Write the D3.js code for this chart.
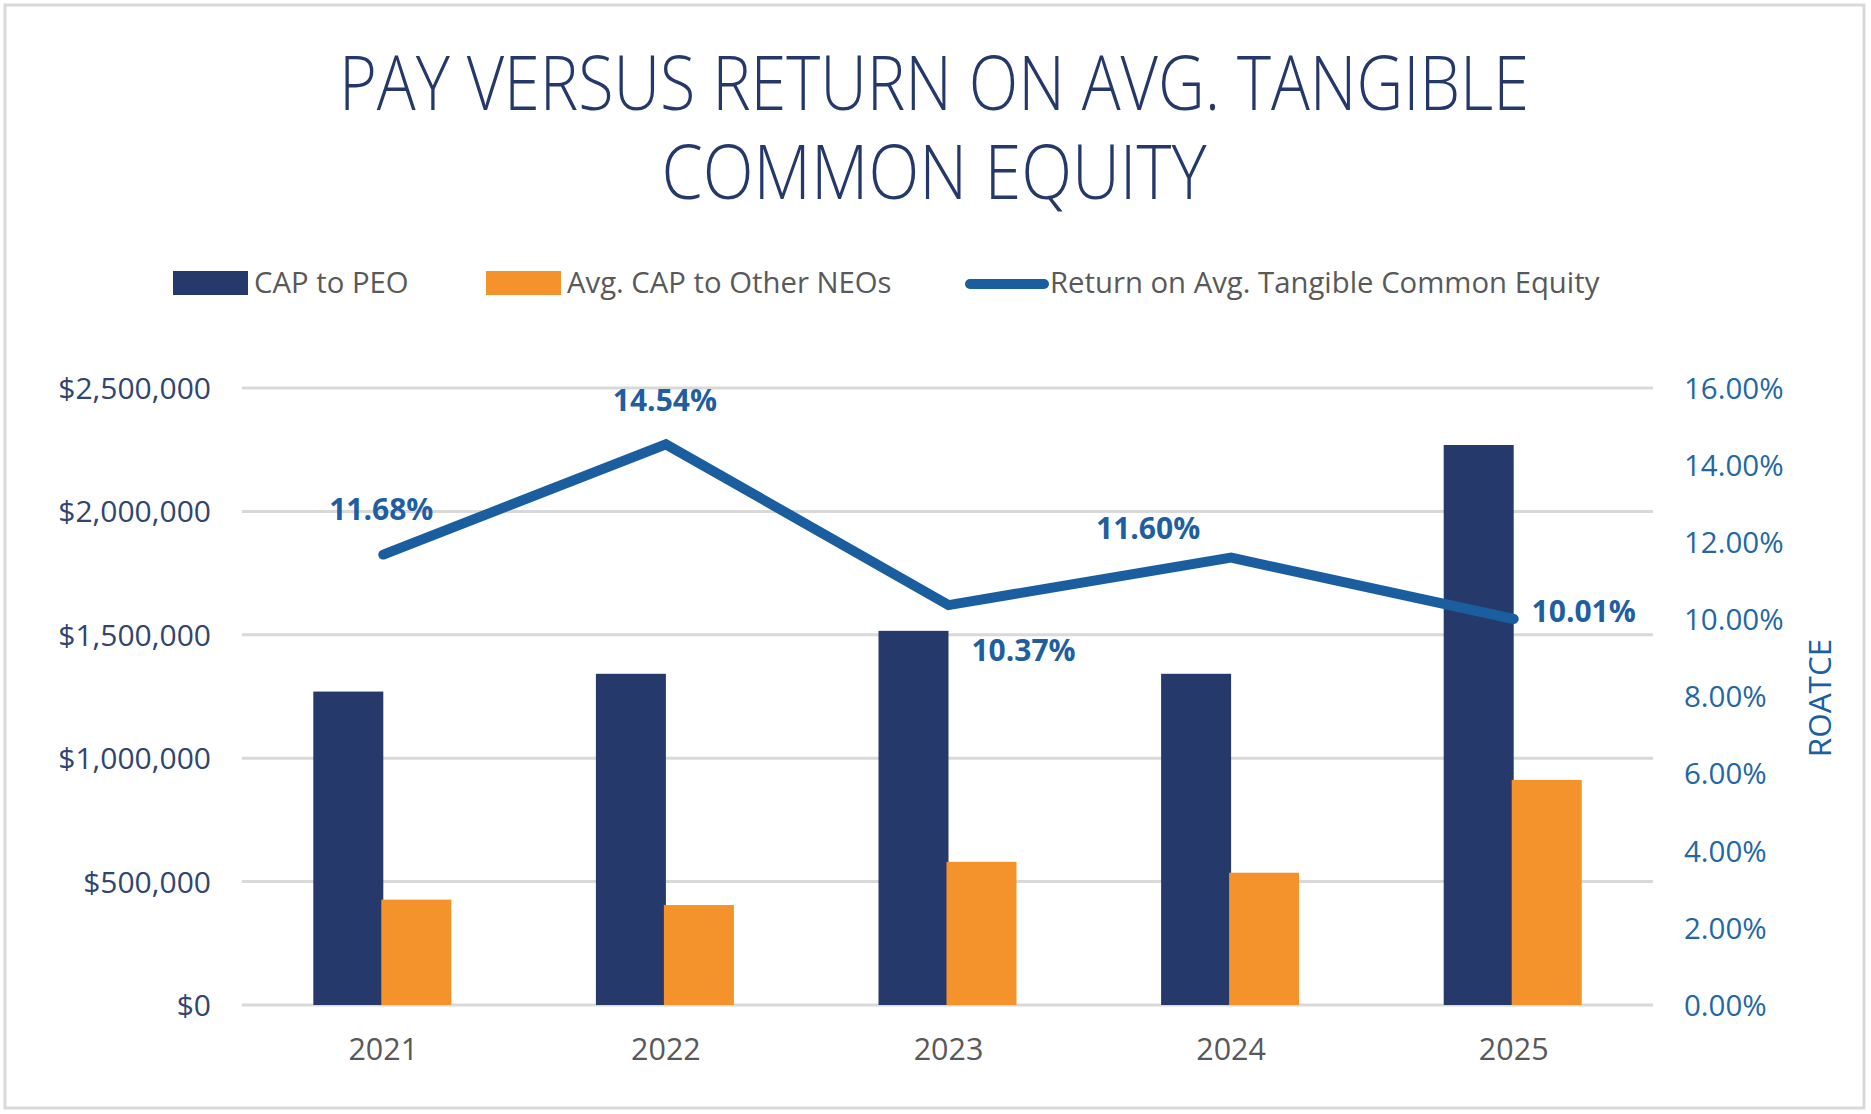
<!DOCTYPE html>
<html>
<head>
<meta charset="utf-8">
<script src="https://cdn.jsdelivr.net/npm/d3@7"></script>
<style>
  body { margin: 0; background: #fff; }
  text { font-family: "Open Sans", "Noto Sans", sans-serif; }
</style>
</head>
<body>
<script>
// chart data
var years = ["2021", "2022", "2023", "2024", "2025"];
var capPeo = [1270000, 1342000, 1516000, 1342000, 2269000];
var capNeo = [427000, 405000, 580000, 536000, 912000];
var roatce = [0.1168, 0.1454, 0.1037, 0.1160, 0.1001];
var leftTicks = [0, 500000, 1000000, 1500000, 2000000, 2500000];
var rightTicks = [0, 0.02, 0.04, 0.06, 0.08, 0.10, 0.12, 0.14, 0.16];
var titleLines = ["PAY VERSUS RETURN ON AVG. TANGIBLE", "COMMON EQUITY"];
var seriesNames = ["CAP to PEO", "Avg. CAP to Other NEOs", "Return on Avg. Tangible Common Equity"];

// label placement for the line values (dx, dy from the point)
var labelOffsets = [[-2, -45], [-1, -44], [75, 45], [-83, -29], [70, -7]];

var svgWidth = 1871;
var svgHeight = 1114;

var navy = "#26396b";
var orange = "#f4922b";
var blue = "#1b5e9f";

var svg = d3.select("body")
  .append("svg")
  .attr("width", svgWidth)
  .attr("height", svgHeight);

// outer frame
svg.append("rect")
  .attr("x", 5).attr("y", 5)
  .attr("width", 1859).attr("height", 1103)
  .attr("fill", "#fff")
  .attr("stroke", "#d9d9d9")
  .attr("stroke-width", 3);

// title
var titleWidths = [1190, 545];
svg.selectAll(".title")
  .data(titleLines)
  .enter()
  .append("text")
  .attr("class", "title")
  .attr("x", 934)
  .attr("y", (d, i) => 110 + i * 89)
  .attr("text-anchor", "middle")
  .attr("font-size", 75)
  .attr("font-weight", 300)
  .attr("fill", "#243869")
  .attr("textLength", (d, i) => titleWidths[i])
  .attr("lengthAdjust", "spacingAndGlyphs")
  .text(d => d);

// scales
var xScale = d3.scaleBand()
  .domain(years)
  .range([242, 1655]);

var barW = 70;
var yLeft = d3.scaleLinear()
  .domain([0, 2500000])
  .range([1005, 388]);

var yRight = d3.scaleLinear()
  .domain([0, 0.16])
  .range([1005, 388]);

var xMid = d => xScale(d) + xScale.bandwidth() / 2;

// gridlines
svg.append("g")
  .selectAll("line")
  .data(leftTicks)
  .enter()
  .append("line")
  .attr("x1", 242).attr("x2", 1653)
  .attr("y1", d => yLeft(d)).attr("y2", d => yLeft(d))
  .attr("stroke", "#d9d9d9")
  .attr("stroke-width", 3);

// left axis
var leftAxis = d3.axisLeft(yLeft)
  .tickValues(leftTicks)
  .tickSize(0)
  .tickPadding(0)
  .tickFormat(d => "$" + d3.format(",")(d));

var gLeft = svg.append("g")
  .attr("transform", "translate(211,0)")
  .call(leftAxis);
gLeft.select(".domain").remove();
gLeft.selectAll("text")
  .attr("font-size", 30)
  .attr("font-family", "Open Sans")
  .attr("fill", "#30456f")
  .attr("dy", "0.35em");

// right axis
var rightAxis = d3.axisRight(yRight)
  .tickValues(rightTicks)
  .tickSize(0)
  .tickPadding(0)
  .tickFormat(d3.format(".2%"));

var gRight = svg.append("g")
  .attr("transform", "translate(1684,0)")
  .call(rightAxis);
gRight.select(".domain").remove();
gRight.selectAll("text")
  .attr("font-size", 29.5)
  .attr("font-family", "Open Sans")
  .attr("fill", "#2467a6")
  .attr("dy", "0.35em");

// right axis title
svg.append("text")
  .attr("transform", "translate(1831,698) rotate(-90)")
  .attr("text-anchor", "middle")
  .attr("font-size", 31.5)
  .attr("fill", "#1b5fa2")
  .text("ROATCE");

// bottom axis
var bottomAxis = d3.axisBottom(xScale).tickSize(0).tickPadding(0);
var gBottom = svg.append("g")
  .attr("transform", "translate(0,1005)")
  .call(bottomAxis);
gBottom.select(".domain").remove();
gBottom.selectAll("text")
  .attr("font-size", 30.5)
  .attr("font-family", "Open Sans")
  .attr("fill", "#595959")
  .attr("dy", 0)
  .attr("y", 55);

// bars
svg.append("g")
  .selectAll("rect")
  .data(years)
  .enter()
  .append("rect")
  .attr("x", d => xMid(d) - barW)
  .attr("y", (d, i) => yLeft(capPeo[i]))
  .attr("width", barW)
  .attr("height", (d, i) => yLeft(0) - yLeft(capPeo[i]))
  .attr("fill", navy);

svg.append("g")
  .selectAll("rect")
  .data(years)
  .enter()
  .append("rect")
  .attr("x", d => xMid(d) - 2)
  .attr("y", (d, i) => yLeft(capNeo[i]))
  .attr("width", barW)
  .attr("height", (d, i) => yLeft(0) - yLeft(capNeo[i]))
  .attr("fill", orange);

// line
var line = d3.line()
  .x(d => xMid(d.year))
  .y(d => yRight(d.value));

var lineData = years.map((y, i) => ({ year: y, value: roatce[i] }));

svg.append("path")
  .datum(lineData)
  .attr("d", line)
  .attr("fill", "none")
  .attr("stroke", blue)
  .attr("stroke-width", 10)
  .attr("stroke-linecap", "round")
  .attr("stroke-linejoin", "miter");

// data labels
svg.append("g")
  .selectAll("text")
  .data(lineData)
  .enter()
  .append("text")
  .attr("x", (d, i) => xMid(d.year) + labelOffsets[i][0])
  .attr("y", (d, i) => yRight(d.value) + labelOffsets[i][1])
  .attr("dy", "0.35em")
  .attr("text-anchor", "middle")
  .attr("font-size", 30)
  .attr("font-weight", "bold")
  .attr("fill", "#1f5f9f")
  .text(d => d3.format(".2%")(d.value));

// legend
var legendX = [173, 486, 966];
var legend = svg.selectAll(".legend")
  .data(seriesNames)
  .enter()
  .append("g")
  .attr("class", "legend")
  .attr("transform", (d, i) => "translate(" + legendX[i] + ",283)");

legend.filter((d, i) => i < 2)
  .append("rect")
  .attr("x", 0).attr("y", -12)
  .attr("width", 75).attr("height", 24)
  .attr("fill", (d, i) => i == 0 ? navy : orange);

legend.filter((d, i) => i == 2)
  .append("line")
  .attr("x1", 4).attr("x2", 78)
  .attr("y1", 1).attr("y2", 1)
  .attr("stroke", blue)
  .attr("stroke-width", 10)
  .attr("stroke-linecap", "round");

legend.append("text")
  .attr("x", (d, i) => i == 2 ? 84 : 81)
  .attr("y", 0)
  .attr("dy", "0.35em")
  .attr("font-size", 29.3)
  .attr("fill", "#595959")
  .text(d => d);
</script>
</body>
</html>
